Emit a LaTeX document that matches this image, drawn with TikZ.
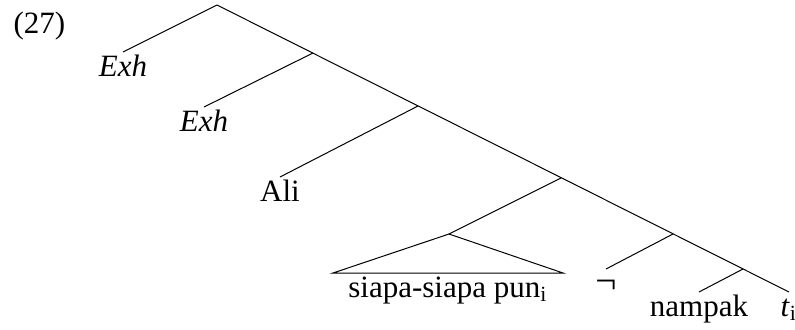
\documentclass[tikz,border=0pt]{standalone}
\usepackage{fontspec}
\setmainfont{Liberation Serif}
\begin{document}
\begin{tikzpicture}[x=0.4pt,y=-0.4pt,font=\fontsize{12.4}{15}\selectfont,
    leaf/.style={anchor=north,inner xsep=0pt,inner ysep=2.5pt,text height=0.7em,text depth=0.2em}]

        \useasboundingbox (0,0) rectangle (795,329);

        %example number
        \node[anchor=base west,inner sep=0pt] (exnum) at (13,33) {(27)};

        %branching points on the spine
        \coordinate (root) at (217,5);
        \coordinate (nA) at (313,53);
        \coordinate (nB) at (418,106);
        \coordinate (nC) at (561,178);
        \coordinate (nD) at (673,234);
        \coordinate (nE) at (743,269);

        %leaves
        \node[leaf] (exhA) at (123,52) {\textit{Exh}};
        \node[leaf] (exhB) at (204,107) {\textit{Exh}};
        \node[leaf] (ali) at (280,177) {Ali};
        \node[leaf] (neg) at (606,269) {\fontsize{15}{15}\selectfont ¬};
        \node[leaf] (nampak) at (699,292) {nampak};
        \node[leaf] (trace) at (789,292) {\textit{t}\textsubscript{i}};

        %spine
        \draw (root) -- (trace.north);

        %left branches
        \draw (root) -- (exhA.north);
        \draw (nA) -- (exhB.north);
        \draw (nB) -- (ali.north);
        \draw (nD) -- (neg.north);
        \draw (nE) -- (nampak.north);

        %triangle for the subject
        \coordinate (apex) at (449,234);
        \coordinate (triL) at (333,273);
        \coordinate (triR) at (563,273);
        \node[leaf] (siapa) at (448,273) {siapa-siapa pun\textsubscript{i}};
        \draw (nC) -- (apex);
        \draw (apex) -- (triL) -- (triR) -- cycle;

\end{tikzpicture}
\end{document}
